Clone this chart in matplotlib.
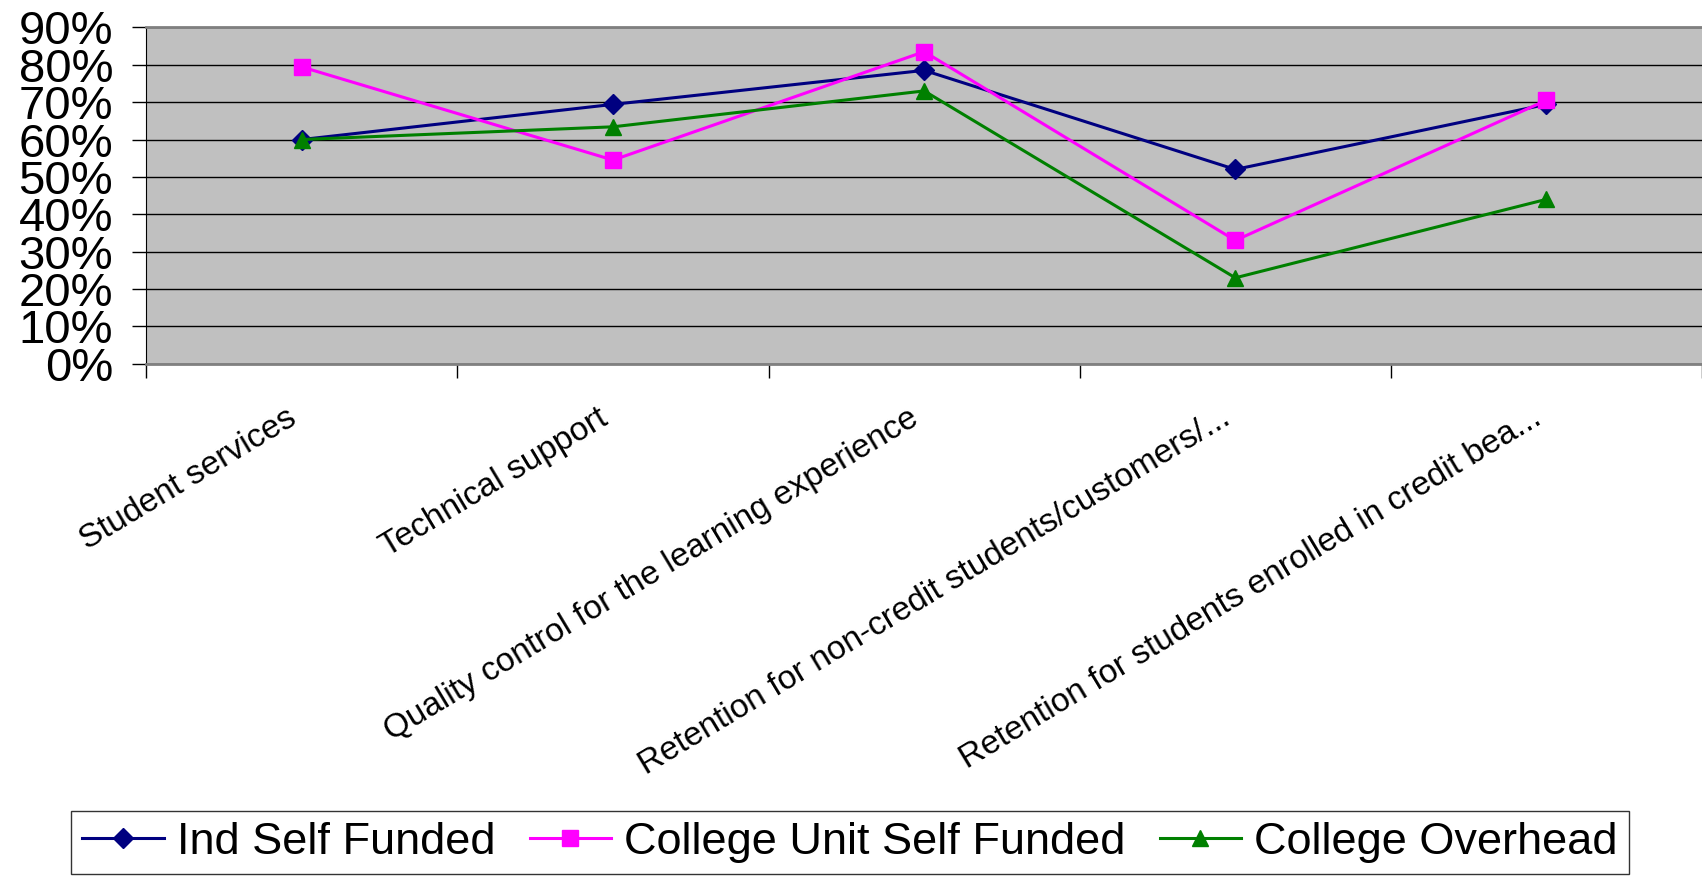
import matplotlib
matplotlib.use("Agg")
import matplotlib.pyplot as plt
from matplotlib.ticker import PercentFormatter
from matplotlib.transforms import ScaledTranslation

# data
categories = [
    "Student services",
    "Technical support",
    "Quality control for the learning experience",
    "Retention for non-credit students/customers/...",
    "Retention for students enrolled in credit bea...",
]
ind_self_funded = [60.0, 69.4, 78.5, 52.0, 69.4]
college_unit_self_funded = [79.4, 54.5, 83.5, 33.0, 70.5]
college_overhead = [60.0, 63.4, 73.0, 23.0, 44.0]
y_ticks = [0, 10, 20, 30, 40, 50, 60, 70, 80, 90]

plt.rcParams['font.family'] = ['Liberation Sans', 'DejaVu Sans']

fig = plt.figure(figsize=(17.02, 8.83), dpi=100)
ax = fig.add_axes([0.086, 0.588, 0.914, 0.381])
ax.set_facecolor('#C0C0C0')

x = list(range(len(categories)))

# garis data
ax.plot(x, ind_self_funded, color='#000080', lw=2.2, marker='D', ms=10,
        label='Ind Self Funded', zorder=3)
ax.plot(x, college_unit_self_funded, color='#FF00FF', lw=2.2, marker='s', ms=11,
        label='College Unit Self Funded', zorder=3)
ax.plot(x, college_overhead, color='#008000', lw=2.2, marker='^', ms=12,
        label='College Overhead', zorder=3)

ax.set_xlim(-0.5, len(categories) - 0.5)
ax.set_ylim(0, 90)

# sumbu Y
ax.set_yticks(y_ticks)
ax.yaxis.set_major_formatter(PercentFormatter(decimals=0))
ax.tick_params(axis='y', labelsize=34, length=10, width=1, pad=14, direction='out')
ax.yaxis.grid(True, color='black', lw=1)
ax.set_axisbelow(True)

# sumbu X: label di tengah kategori, tick di batas kategori
ax.set_xticks(x)
ax.set_xticklabels(categories, rotation=31, ha='right', rotation_mode='anchor',
                   fontsize=24)
ax.tick_params(axis='x', which='major', length=0, pad=28)
shift = ScaledTranslation(-16 / 100, 0, fig.dpi_scale_trans)
for lbl in ax.get_xticklabels():
    lbl.set_transform(lbl.get_transform() + shift)
ax.set_xticks([i - 0.5 for i in range(len(categories) + 1)], minor=True)
ax.tick_params(axis='x', which='minor', length=10, width=1, direction='out')

ax.spines['left'].set_color('black')
ax.spines['bottom'].set_color('#808080')
ax.spines['bottom'].set_linewidth(2)
ax.spines['top'].set_color('#808080')
ax.spines['top'].set_linewidth(2)
ax.spines['right'].set_visible(False)

# legenda
leg = fig.legend(loc='center', bbox_to_anchor=(0.4995, 0.046), ncol=3,
                 fontsize=32.5, frameon=True, fancybox=False, edgecolor='black',
                 handlelength=1.8, handletextpad=0.3, columnspacing=0.75,
                 borderpad=0.25, borderaxespad=0)
leg.get_frame().set_linewidth(1)

fig.savefig('out.png', dpi=100)
